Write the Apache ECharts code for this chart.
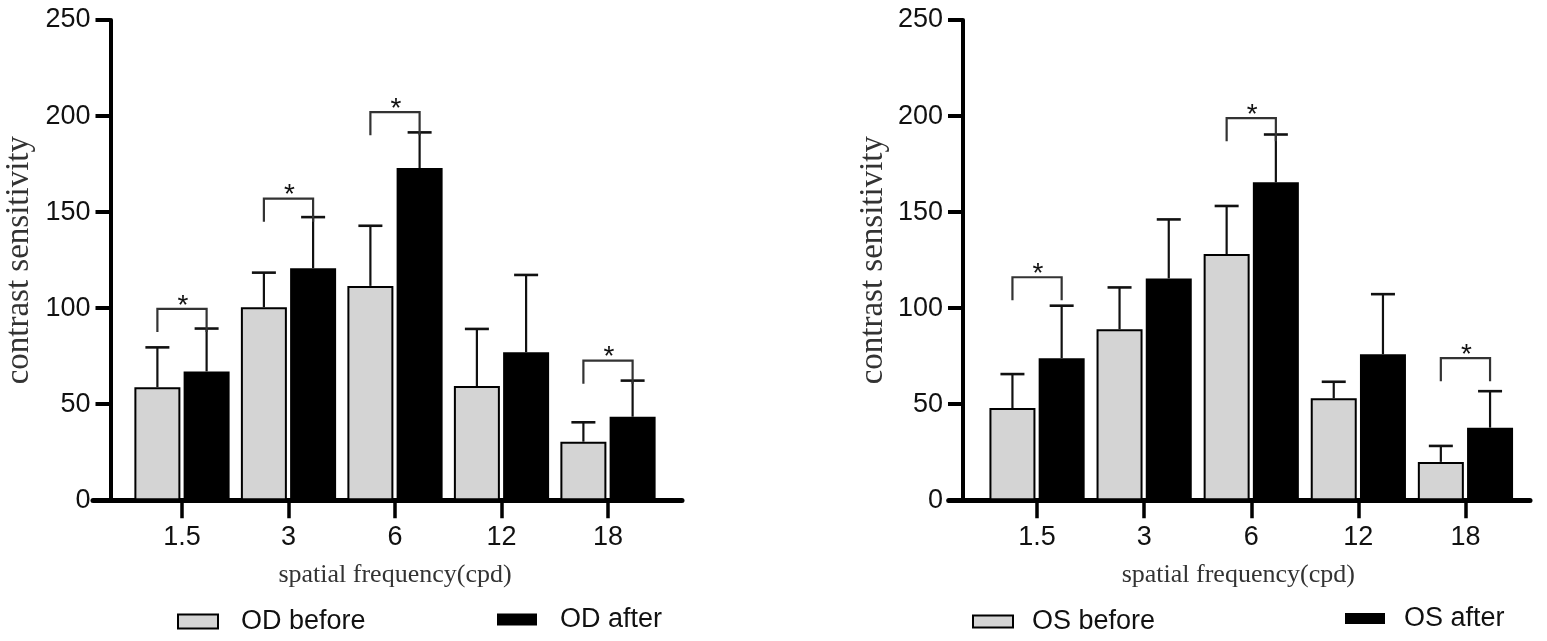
<!DOCTYPE html>
<html>
<head>
<meta charset="utf-8">
<title>contrast sensitivity</title>
<script src="https://cdn.jsdelivr.net/npm/echarts@6.0.0/dist/echarts.min.js"></script>
<style>
    html, body { margin: 0; padding: 0; background: #fff; }
    #chart { width: 1547px; height: 641px; }
</style>
</head>
<body>
<div id="chart"></div>
<script>
// values (mean and SD, contrast sensitivity)
var categories = ['1.5', '3', '6', '12', '18'];
var odBefore = [58.9, 100.5, 111.6, 59.5, 30.5];
var odBeforeSD = [20.7, 18.0, 31.3, 29.7, 10.1];
var odAfter = [67.1, 120.8, 172.9, 77.1, 43.5];
var odAfterSD = [22.3, 26.6, 18.6, 40.2, 18.8];
var osBefore = [48.0, 89.0, 128.2, 53.1, 20.0];
var osBeforeSD = [17.7, 21.8, 25.0, 8.6, 8.3];
var osAfter = [74.0, 115.5, 165.5, 76.0, 37.8];
var osAfterSD = [27.3, 30.7, 24.9, 31.3, 19.0];

// significance brackets: category index, bracket height, leg length
var odSigIndex = [0, 1, 2, 4];
var odSigLevel = [99.6, 157.0, 202.0, 72.7];
var osSigIndex = [0, 2, 4];
var osSigLevel = [116.1, 198.9, 74.0];
var sigLeg = 12;

var yMin = 0;
var yMax = 250;
var yStep = 50;

var SANS = "'Liberation Sans', Arial, sans-serif";
var SERIF = "'Liberation Serif', 'Times New Roman', serif";
var BAR_W = 46;
var BAR_GAP = 0.07;
var HALF = (BAR_W + BAR_W * BAR_GAP) / 2;   // distance from category centre to bar centre

function barSeries(name, data, axis, color, border) {
    return {
        name: name,
        type: 'bar',
        xAxisIndex: axis,
        yAxisIndex: axis,
        barWidth: BAR_W,
        barGap: (BAR_GAP * 100) + '%',
        data: data,
        itemStyle: {
            color: color,
            borderColor: '#000',
            borderWidth: border
        },
        emphasis: { disabled: true },
        z: 2
    };
}

function errSeries(means, sds, axis, side) {
    var d = [];
    for (var i = 0; i < means.length; ++ i) {
        d.push([i, means[i], sds[i]]);
    }
    return {
        type: 'custom',
        xAxisIndex: axis,
        yAxisIndex: axis,
        data: d,
        clip: false,
        z: 4,
        silent: true,
        renderItem: function(params, api) {
            var base = api.coord([api.value(0), api.value(1)]);
            var top = api.coord([api.value(0), api.value(1) + api.value(2)]);
            var x = base[0] + side * HALF;
            return {
                type: 'group',
                children: [
                    { type: 'line', shape: { x1: x, y1: base[1], x2: x, y2: top[1] },
                      style: { stroke: '#111', lineWidth: 2.2 } },
                    { type: 'line', shape: { x1: x - 12, y1: top[1], x2: x + 12, y2: top[1] },
                      style: { stroke: '#111', lineWidth: 2.6 } }
                ]
            };
        }
    };
}

function sigSeries(idx, level, axis) {
    var d = [];
    for (var i = 0; i < idx.length; ++ i) {
        d.push([idx[i], level[i], sigLeg]);
    }
    return {
        type: 'custom',
        xAxisIndex: axis,
        yAxisIndex: axis,
        data: d,
        clip: false,
        z: 5,
        silent: true,
        renderItem: function(params, api) {
            var p = api.coord([api.value(0), api.value(1)]);
            var b = api.coord([api.value(0), api.value(1) - api.value(2)]);
            var xl = p[0] - HALF;
            var xr = p[0] + HALF;
            return {
                type: 'group',
                children: [
                    { type: 'polyline',
                      shape: { points: [[xl, b[1]], [xl, p[1]], [xr, p[1]], [xr, b[1]]] },
                      style: { stroke: '#333', lineWidth: 2.2, fill: null } },
                    { type: 'text',
                      style: { text: '*', x: p[0] + 1, y: p[1] - 3, align: 'center', verticalAlign: 'middle',
                               fontSize: 28, fontFamily: SANS, fill: '#111' } }
                ]
            };
        }
    };
}

function lineAxis(grid) {
    // long baseline that runs past the y axis, as in the figure
    return {
        type: 'value', gridIndex: grid, min: 0, max: 1,
        axisLine: { show: true, onZero: false, lineStyle: { color: '#000', width: 5 } },
        axisTick: { show: false }, axisLabel: { show: false }, splitLine: { show: false }
    };
}

function catAxis(grid, namePad) {
    return {
        type: 'category', gridIndex: grid, data: categories,
        axisLine: { show: false },
        axisTick: { show: true, alignWithLabel: true, length: 18, lineStyle: { color: '#000', width: 3.5 } },
        axisLabel: { fontSize: 27, fontFamily: SANS, color: '#111', margin: 24 },
        name: 'spatial frequency(cpd)',
        nameLocation: 'middle',
        nameGap: 62,
        nameTextStyle: { fontSize: 26, fontFamily: SERIF, color: '#333', padding: namePad }
    };
}

function valAxis(grid, offset, nameGap) {
    return {
        type: 'value', gridIndex: grid, min: yMin, max: yMax, interval: yStep, offset: offset,
        axisLine: { show: true, lineStyle: { color: '#000', width: 4 } },
        axisTick: { show: true, length: 15, lineStyle: { color: '#000', width: 4 } },
        axisLabel: { fontSize: 27, fontFamily: SANS, color: '#111', margin: 20 },
        splitLine: { show: false },
        name: 'contrast sensitivity',
        nameLocation: 'middle',
        nameGap: nameGap,
        nameTextStyle: { fontSize: 33, fontFamily: SERIF, color: '#333' }
    };
}

function legendItem(name, left, top, h, pad) {
    return {
        data: [name], left: left, top: top, padding: 0,
        orient: 'horizontal', icon: 'rect', itemWidth: 40, itemHeight: h,
        selectedMode: false,
        textStyle: { fontSize: 27, fontFamily: SANS, color: '#111', padding: [0, 0, 0, pad] }
    };
}

var dom = document.getElementById('chart');
var myChart = echarts.init(dom, null, { renderer: 'canvas' });

var option = {
    animation: false,
    backgroundColor: '#fff',
    grid: [
        { left: 93, top: 20, width: 589, height: 480.3, outerBoundsMode: 'none', containLabel: false },
        { left: 128.75, top: 20, width: 532.5, height: 480.3, outerBoundsMode: 'none', containLabel: false },
        { left: 948.7, top: 20, width: 581.3, height: 480.3, outerBoundsMode: 'none', containLabel: false },
        { left: 983.5, top: 20, width: 535.5, height: 480.3, outerBoundsMode: 'none', containLabel: false }
    ],
    xAxis: [
        lineAxis(0),
        catAxis(1, 0),
        lineAxis(2),
        catAxis(3, [0, 26, 0, 0])
    ],
    yAxis: [
        { type: 'value', gridIndex: 0, show: false },
        valAxis(1, 18.25, 75),
        { type: 'value', gridIndex: 2, show: false },
        valAxis(3, 20.5, 73)
    ],
    legend: [
        legendItem('OD before', 177, 608, 14, 18),
        legendItem('OD after', 497, 606, 12, 18),
        legendItem('OS before', 972, 608, 12, 14),
        legendItem('OS after', 1345, 605, 11, 14)
    ],
    series: [
        barSeries('OD before', odBefore, 1, '#d4d4d4', 2),
        barSeries('OD after', odAfter, 1, '#000', 0),
        errSeries(odBefore, odBeforeSD, 1, -1),
        errSeries(odAfter, odAfterSD, 1, 1),
        sigSeries(odSigIndex, odSigLevel, 1),
        barSeries('OS before', osBefore, 3, '#d4d4d4', 2),
        barSeries('OS after', osAfter, 3, '#000', 0),
        errSeries(osBefore, osBeforeSD, 3, -1),
        errSeries(osAfter, osAfterSD, 3, 1),
        sigSeries(osSigIndex, osSigLevel, 3)
    ]
};

myChart.setOption(option, true);
</script>
</body>
</html>
